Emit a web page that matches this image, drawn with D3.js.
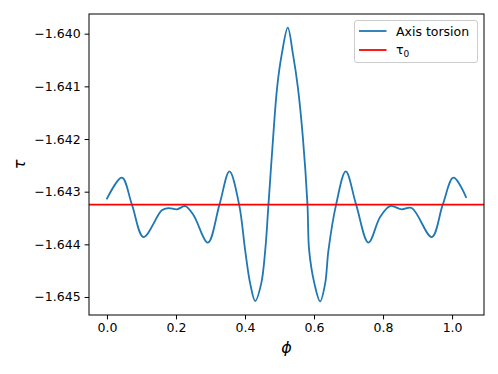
<!DOCTYPE html>
<html>
<head>
<meta charset="utf-8">
<script src="https://cdn.jsdelivr.net/npm/d3@7"></script>
<style>
  body { margin: 0; background: #fff; }
  svg { display: block; }
  text { font-family: "DejaVu Sans", sans-serif; }
</style>
</head>
<body>
<svg id="chart" width="498" height="374"></svg>
<script>
// ---- data ----
const phi = [0.000, 0.0434, 0.0724, 0.106, 0.159, 0.178, 0.203, 0.227, 0.251, 0.2925,
  0.326, 0.355, 0.383, 0.4005, 0.4151, 0.4295, 0.4470, 0.4586, 0.468, 0.4816,
  0.4932, 0.5068, 0.524, 0.5387, 0.5531, 0.5676, 0.581, 0.5859, 0.6012, 0.6177,
  0.6322, 0.6418, 0.664, 0.692, 0.722, 0.7576, 0.7915, 0.8205, 0.854, 0.883,
  0.941, 0.973, 1.004, 1.0405];
const tau = [-1.643132, -1.642733, -1.643246, -1.643861, -1.643354, -1.643311, -1.643335, -1.643273, -1.643449, -1.643967,
  -1.643246, -1.642614, -1.643246, -1.644114, -1.644746, -1.645076, -1.644746, -1.644114, -1.643246, -1.641963,
  -1.641014, -1.640380, -1.639886, -1.640380, -1.641014, -1.641963, -1.643246, -1.644114, -1.644746, -1.645082,
  -1.644746, -1.644114, -1.643246, -1.642614, -1.643246, -1.643967, -1.643481, -1.643273, -1.643335, -1.643311,
  -1.643861, -1.643246, -1.642733, -1.643102];
const tau0 = -1.643245;
const xTicks = [0.0, 0.2, 0.4, 0.6, 0.8, 1.0];
const yTicks = [-1.645, -1.644, -1.643, -1.642, -1.641, -1.640];
const seriesNames = ["Axis torsion", "τ"];

// ---- layout ----
const L = 89, R = 484, T = 14, B = 315;
const svg = d3.select("#chart");

const xExt = d3.extent(phi), xm = (xExt[1] - xExt[0]) * 0.05;
const yExt = d3.extent(tau), ym = (yExt[1] - yExt[0]) * 0.05;
const x = d3.scaleLinear().domain([xExt[0] - xm, xExt[1] + xm]).range([L, R]);
const y = d3.scaleLinear().domain([yExt[0] - ym, yExt[1] + ym]).range([B, T]);

const fmtY = d3.format(".3f");
const fmtX = d3.format(".1f");

// axes
const xAxis = d3.axisBottom(x).tickValues(xTicks).tickFormat(fmtX).tickSizeOuter(0).tickSize(4.4).tickPadding(4);
const yAxis = d3.axisLeft(y).tickValues(yTicks).tickFormat(fmtY).tickSizeOuter(0).tickSize(4.4).tickPadding(4);

const gx = svg.append("g").attr("transform", `translate(0,${B})`).call(xAxis);
const gy = svg.append("g").attr("transform", `translate(${L},0)`).call(yAxis);
[gx, gy].forEach(g => {
  g.select(".domain").remove();
  g.selectAll(".tick line").attr("stroke", "#000").attr("stroke-width", 1);
  g.selectAll(".tick text").attr("fill", "#000").style("font-size", "12.5px").style("font-family", "DejaVu Sans");
});

// clip
svg.append("clipPath").attr("id", "clip").append("rect")
  .attr("x", L).attr("y", T).attr("width", R - L).attr("height", B - T);

// series line
const line = d3.line().x((d, i) => x(phi[i])).y((d, i) => y(tau[i])).curve(d3.curveCatmullRom.alpha(0.5));
svg.append("path").datum(tau).attr("d", line)
  .attr("fill", "none").attr("stroke", "#1f77b4").attr("stroke-width", 1.8)
  .attr("stroke-linejoin", "round").attr("stroke-linecap", "square").attr("clip-path", "url(#clip)");

// tau0 line
svg.append("line").attr("x1", L).attr("x2", R).attr("y1", y(tau0)).attr("y2", y(tau0))
  .attr("stroke", "#ff0000").attr("stroke-width", 1.8);

// frame
svg.append("rect").attr("x", L).attr("y", T).attr("width", R - L).attr("height", B - T)
  .attr("fill", "none").attr("stroke", "#000").attr("stroke-width", 1);

// axis labels
svg.append("text").attr("x", (L + R) / 2).attr("y", 353).attr("text-anchor", "middle")
  .style("font-size", "16px").style("font-style", "italic").text("ϕ");
svg.append("text").attr("transform", `translate(25,${(T + B) / 2}) rotate(-90)`).attr("text-anchor", "middle")
  .style("font-size", "16px").style("font-style", "italic").text("τ");

// legend
const lg = svg.append("g");
lg.append("rect").attr("x", 354.5).attr("y", 20.5).attr("width", 123).attr("height", 42)
  .attr("rx", 2.5).attr("fill", "#fff").attr("fill-opacity", 0.8).attr("stroke", "#cccccc").attr("stroke-width", 1);
const colors = ["#1f77b4", "#ff0000"];
[31, 50].forEach((ly, i) => {
  lg.append("line").attr("x1", 359).attr("x2", 386.5).attr("y1", ly).attr("y2", ly)
    .attr("stroke", colors[i]).attr("stroke-width", 1.8);
});
lg.append("text").attr("x", 396).attr("y", 35.5).style("font-size", "12.5px").text(seriesNames[0]);
const t2 = lg.append("text").attr("x", 396).attr("y", 54).style("font-size", "12.5px");
t2.append("tspan").text(seriesNames[1]);
t2.append("tspan").attr("dy", 2.5).style("font-size", "9px").text("0");
</script>
</body>
</html>
